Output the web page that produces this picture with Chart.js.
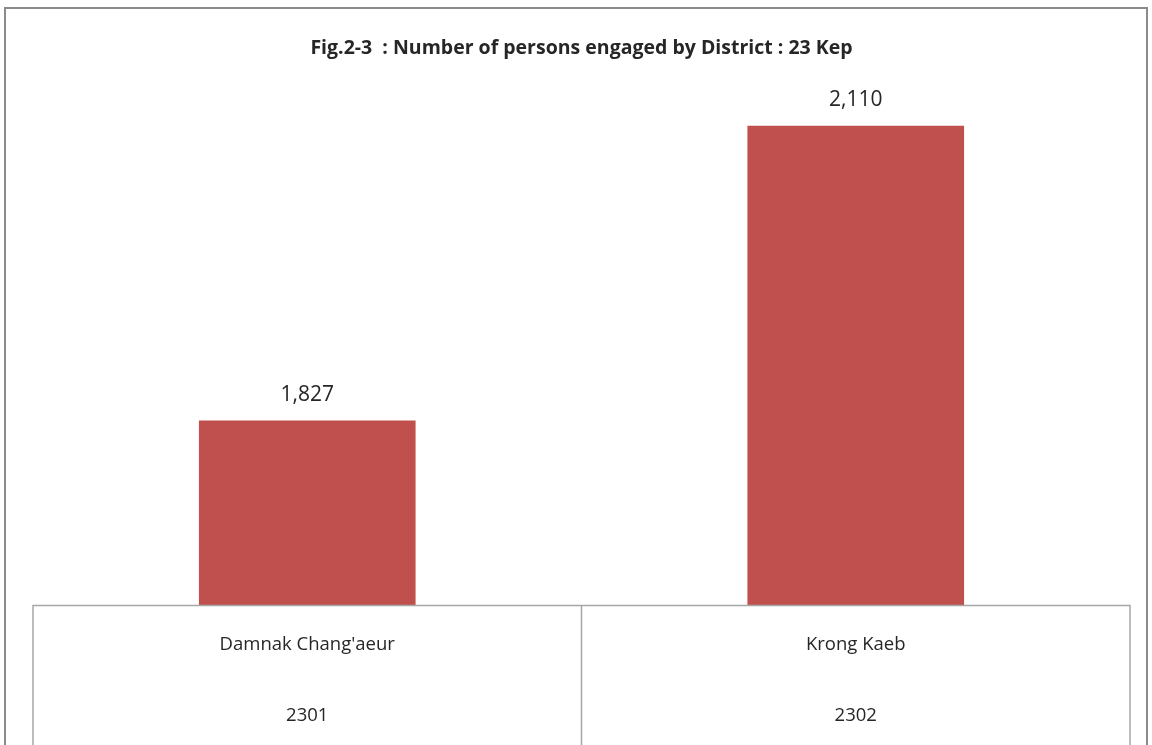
<!DOCTYPE html>
<html>
<head>
<meta charset="utf-8">
<title>Fig.2-3 Number of persons engaged by District : 23 Kep</title>
<script src="https://cdn.jsdelivr.net/npm/chart.js"></script>
<style>
    html, body { margin: 0; padding: 0; background: #fff; }
    #wrap { width: 1152px; height: 745px; position: relative; }
</style>
</head>
<body>
<div id="wrap"><canvas id="districtChart"></canvas></div>
<script>
(function () {
    "use strict";

    // -----------------------------------------------------------
    //  Data
    // -----------------------------------------------------------
    var districtNames = ["Damnak Chang'aeur", "Krong Kaeb"];
    var districtCodes = ["2301", "2302"];
    var personsEngaged = [1827, 2110];
    var yRange = [1650, 2150];

    var titleText = "Fig.2-3  : Number of persons engaged by District : 23 Kep";
    var barColor = "#c0504d";
    var textColor = "#262626";
    var fontFamily = "'Open Sans', 'DejaVu Sans', sans-serif";

    // -----------------------------------------------------------
    //  Outer frame + category table under the bars
    // -----------------------------------------------------------
    var tablePlugin = {
        id: "tableAxis",
        beforeDraw: function (chart) {
            var ctx = chart.ctx;
            ctx.save();
            ctx.fillStyle = "#fff";
            ctx.fillRect(0, 0, chart.width, chart.height);
            ctx.strokeStyle = "#8a8a8a";
            ctx.lineWidth = 2;
            ctx.beginPath();
            ctx.moveTo(5, chart.height + 5);
            ctx.lineTo(5, 8);
            ctx.lineTo(1147, 8);
            ctx.lineTo(1147, chart.height + 5);
            ctx.stroke();
            ctx.restore();
        },
        afterDraw: function (chart) {
            var ctx = chart.ctx;
            var area = chart.chartArea;
            var xs = chart.scales.x;
            var bottom = chart.height + 5;
            ctx.save();
            ctx.strokeStyle = "#a6a6a6";
            ctx.lineWidth = 1.5;
            ctx.beginPath();
            ctx.moveTo(area.left, bottom);
            ctx.lineTo(area.left, area.bottom + 0.5);
            ctx.lineTo(area.right, area.bottom + 0.5);
            ctx.lineTo(area.right, bottom);
            for (var i = 1; i < districtNames.length; i++) {
                var mid = (xs.getPixelForValue(i - 1) + xs.getPixelForValue(i)) / 2;
                ctx.moveTo(mid, area.bottom);
                ctx.lineTo(mid, bottom);
            }
            ctx.stroke();

            ctx.fillStyle = textColor;
            ctx.font = "18.5px " + fontFamily;
            ctx.textAlign = "center";
            ctx.textBaseline = "middle";
            districtNames.forEach(function (name, idx) {
                var cx = xs.getPixelForValue(idx);
                ctx.fillText(name, cx, area.bottom + 40);
                ctx.fillText(districtCodes[idx], cx, area.bottom + 111);
            });
            ctx.restore();
        },
        afterDatasetsDraw: function (chart) {
            var ctx = chart.ctx;
            var meta = chart.getDatasetMeta(0);
            ctx.save();
            ctx.fillStyle = textColor;
            ctx.font = "21px " + fontFamily;
            ctx.textAlign = "center";
            ctx.textBaseline = "middle";
            meta.data.forEach(function (bar, idx) {
                ctx.fillText(personsEngaged[idx].toLocaleString("en-US"), bar.x, bar.y - 26);
            });
            ctx.restore();
        }
    };

    // -----------------------------------------------------------
    //  Chart
    // -----------------------------------------------------------
    new Chart(document.getElementById("districtChart"), {
        type: "bar",
        data: {
            labels: districtNames,
            datasets: [{
                label: "Persons engaged",
                data: personsEngaged,
                backgroundColor: barColor,
                borderWidth: 0,
                categoryPercentage: 1,
                barPercentage: 0.395
            }]
        },
        options: {
            responsive: true,
            maintainAspectRatio: false,
            animation: false,
            layout: { padding: { left: 33, right: 22, top: 0, bottom: 140 } },
            plugins: {
                legend: { display: false },
                tooltip: { enabled: false },
                title: {
                    display: true,
                    text: titleText,
                    color: textColor,
                    font: { family: fontFamily, size: 19.5, weight: "bold", lineHeight: 1.2 },
                    padding: { top: 37, bottom: 23.6 }
                }
            },
            scales: {
                x: { display: false },
                y: { display: false, min: yRange[0], max: yRange[1] }
            }
        },
        plugins: [tablePlugin]
    });
})();
</script>
</body>
</html>
